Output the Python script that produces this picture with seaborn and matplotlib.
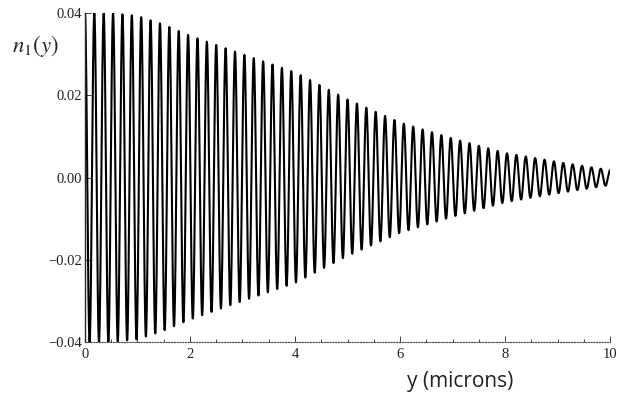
import matplotlib
matplotlib.use("Agg")
import matplotlib.pyplot as plt
from matplotlib.ticker import MultipleLocator
import numpy as np
import pandas as pd
import seaborn as sns

# envelope of the index modulation
env_y = [0.0, 0.5, 1.0, 1.5, 2.0, 3.0, 4.0, 5.0, 6.0, 7.0, 8.0, 9.0, 10.0]
env_amp = [0.0400, 0.0400, 0.0393, 0.0372, 0.0345, 0.0300, 0.0256, 0.0190,
           0.0134, 0.0095, 0.0060, 0.0038, 0.0018]
grating_period = 0.1786  # microns, ~56 fringes over 10 microns
x_ticks = [0, 2, 4, 6, 8, 10]
y_ticks = [-0.04, -0.02, 0.00, 0.02, 0.04]
y_ticklabels = ["\u22120.04", "\u22120.02", "0.00", "0.02", "0.04"]

sns.set_style("ticks")
plt.rcParams['font.family'] = ['Liberation Serif', 'DejaVu Serif']
plt.rcParams['mathtext.fontset'] = 'stix'

y = np.linspace(0, 10, 6000)
n1 = np.interp(y, env_y, env_amp) * np.cos(2 * np.pi * y / grating_period)
df = pd.DataFrame({'y': y, 'n1': n1})

fig = plt.figure(figsize=(6.29, 3.96), dpi=100)
ax = fig.add_axes([0.135, 0.136, 0.835, 0.831])
sns.lineplot(data=df, x='y', y='n1', ax=ax, color='black', lw=1.5)

ax.set_xlim(0, 10)
ax.set_ylim(-0.04, 0.04)
ax.set_xticks(x_ticks)
ax.set_xticklabels([str(t) for t in x_ticks])
ax.set_yticks(y_ticks)
ax.set_yticklabels(y_ticklabels)
ax.xaxis.set_minor_locator(MultipleLocator(0.5))
ax.tick_params(which='both', direction='in', labelsize=10.5, colors='#222222', width=0.6)
ax.tick_params(which='major', length=4)
ax.tick_params(which='minor', length=2)
ax.tick_params(axis='x', pad=4)
ax.tick_params(axis='y', pad=2)

for side in ['top', 'right']:
    ax.spines[side].set_visible(False)
ax.spines['left'].set_linewidth(1.0)
ax.spines['bottom'].set_linewidth(0.8)
ax.spines['bottom'].set_linestyle((0, (1, 1.5)))
ax.spines['bottom'].set_color('#444444')

ax.set_xlabel('')
ax.set_ylabel('')
fig.text(0.057, 0.885, r'$n_1(y)$', fontsize=16.5, ha='center', va='center')
fig.text(0.731, 0.037, 'y (microns)', fontsize=15, family=['Open Sans', 'DejaVu Sans'],
         ha='center', va='center', color='#222222')

plt.savefig('out.png', dpi=100)
